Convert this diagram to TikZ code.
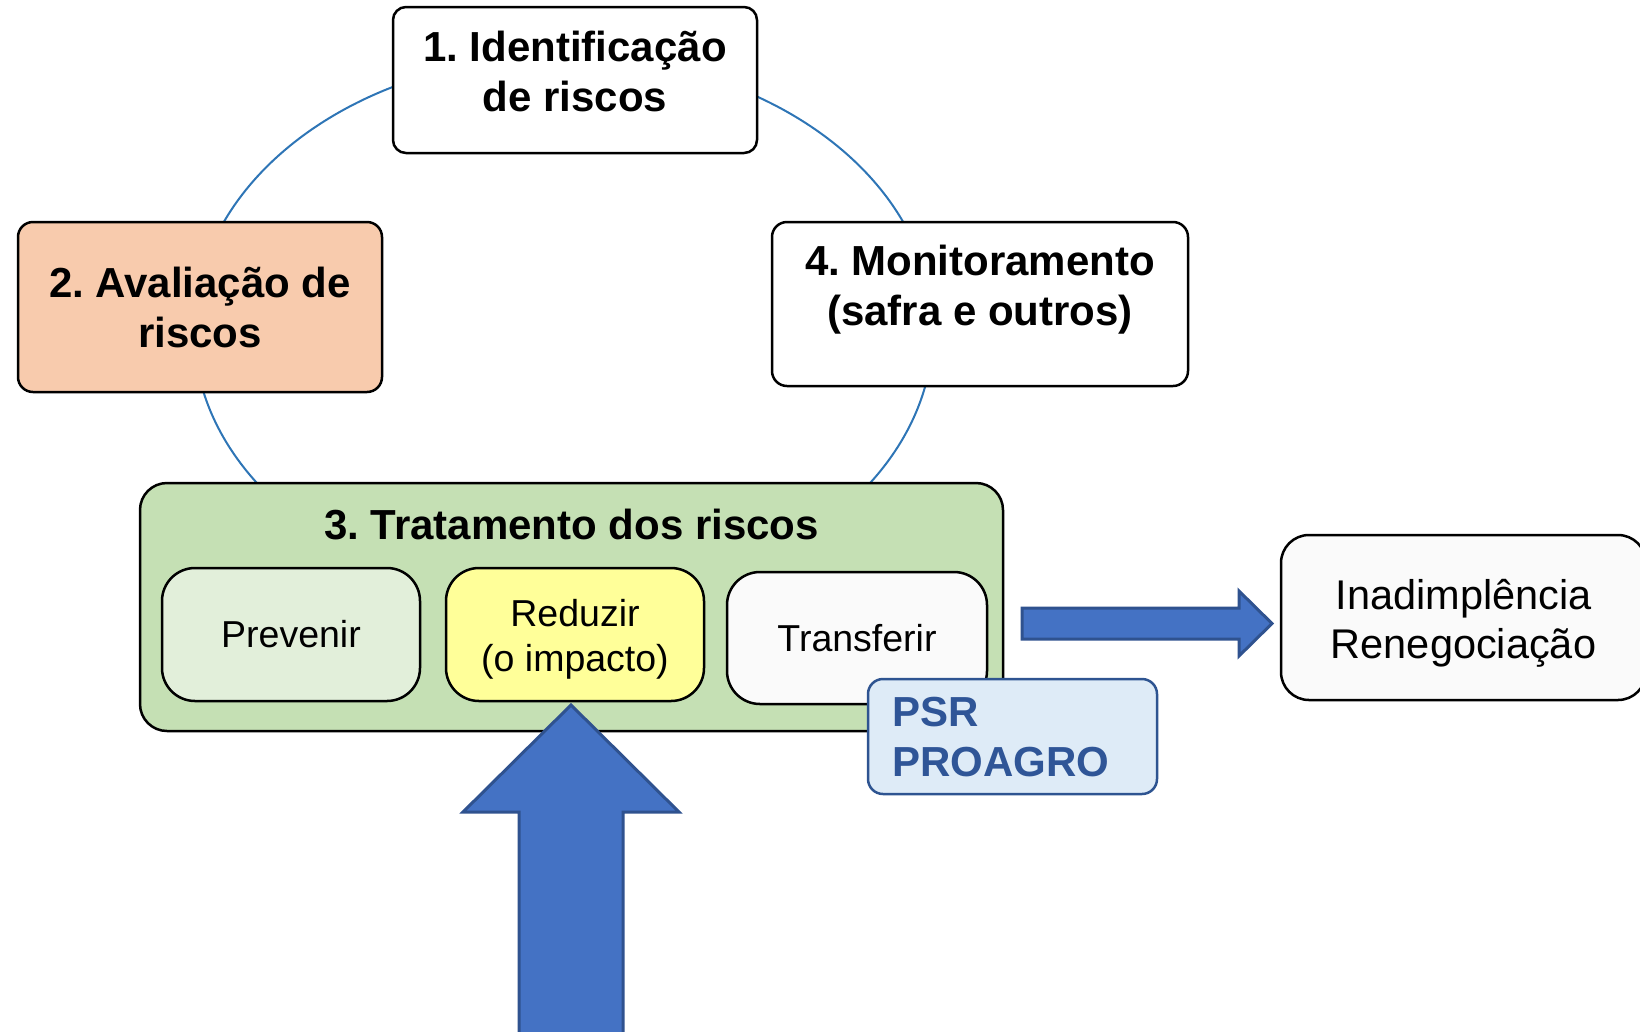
\documentclass[tikz,border=0pt]{standalone}
\usepackage{fontspec}
\setmainfont{Liberation Sans}
\frenchspacing
\definecolor{cyc}{RGB}{46,117,182}
\definecolor{peach}{RGB}{248,203,173}
\definecolor{grn}{RGB}{197,224,180}
\definecolor{lgrn}{RGB}{226,239,218}
\definecolor{yel}{RGB}{255,255,153}
\definecolor{wht}{RGB}{250,250,250}
\definecolor{psrfill}{RGB}{222,235,247}
\definecolor{psrline}{RGB}{46,84,145}
\definecolor{psrtext}{RGB}{47,85,151}
\definecolor{arrfill}{RGB}{68,114,196}
\definecolor{arrline}{RGB}{47,82,143}
\begin{document}
\begin{tikzpicture}[x=1pt,y=-1pt,
  box/.style={draw=black, line width=2.5pt, rounded corners=#1, inner sep=0pt, align=center},
  box/.default=13pt,
  bigtxt/.style={font=\fontsize{42}{50}\selectfont\bfseries, align=center, inner sep=0pt},
  midtxt/.style={font=\fontsize{37.5}{45}\selectfont, align=center, inner sep=0pt},
  blockarrow/.style={fill=arrfill, draw=arrline, line width=3pt, line join=miter}]
\useasboundingbox (0,0) rectangle (1640,1031);
% cycle ellipse
\draw[cyc, line width=2pt] (563.5,330) ellipse [x radius=369.5pt, y radius=274pt];
% 1
\node[box=13pt, fill=white, minimum width=364pt, minimum height=146pt] (b1) at (575,80) {};
\node[bigtxt] (t1) at (575,71) {1. Identificação\\de riscos};
% 2
\node[box=15pt, fill=peach, minimum width=364pt, minimum height=170pt, bigtxt] (b2) at (200,307) {2. Avaliação de\\riscos};
% 4
\node[box=15pt, fill=white, minimum width=416pt, minimum height=164pt] (b4) at (980,304) {};
\node[bigtxt] (t4) at (980,290) {4. Monitoramento\\(safra e outros)};
% 3
\node[box=27pt, fill=grn, minimum width=863pt, minimum height=248pt] (b3) at (571.5,607) {};
\node[bigtxt] (t3) at (571.5,524.7) {3. Tratamento dos riscos};
\node[box=33pt, fill=lgrn, minimum width=258pt, minimum height=133pt, midtxt] (prev) at (291,634.5) {Prevenir};
\node[box=33pt, fill=yel, minimum width=258pt, minimum height=133pt] (red) at (575,634.5) {};
\node[midtxt] (tred) at (575,639) {Reduzir\\(o impacto)};
\node[box=33pt, fill=wht, minimum width=260pt, minimum height=132pt, midtxt] (trans) at (857,638) {Transferir};
% up arrow
\draw[blockarrow] (571,705) -- (679,812) -- (623,812) -- (623,1045) -- (519,1045) -- (519,812) -- (463,812) -- cycle;
% PSR
\node[box=15pt, draw=psrline, fill=psrfill, minimum width=289pt, minimum height=115pt] (psr) at (1012.5,736.5) {};
\node[bigtxt, text=psrtext, align=left, anchor=west] (tpsr) at (892,737) {PSR\\PROAGRO};
% right arrow
\draw[blockarrow] (1022,608) -- (1239,608) -- (1239,591) -- (1272,623.5) -- (1239,656) -- (1239,639) -- (1022,639) -- cycle;
% Inadimplencia
\node[box=28pt, fill=wht, minimum width=365pt, minimum height=165pt] (inad) at (1463.5,617.5) {};
\node[font=\fontsize{41.5}{49}\selectfont, align=center, inner sep=0pt] (tinad) at (1463.5,623) {Inadimplência\\Renegociação};
\end{tikzpicture}
\end{document}
